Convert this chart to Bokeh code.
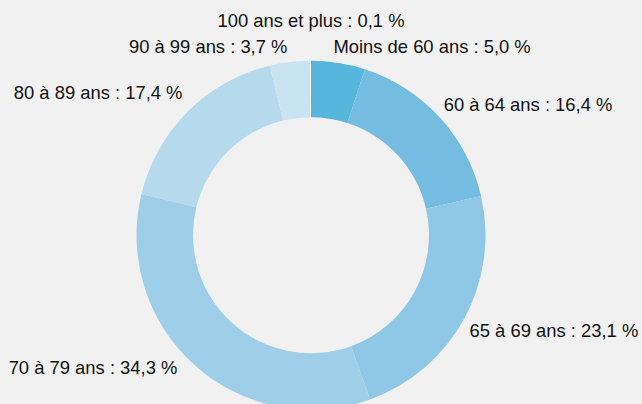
import math
from bokeh.plotting import figure
from bokeh.models import Range1d, ColumnDataSource
from bokeh.core.properties import value
from bokeh.embed import file_html
from bokeh.resources import INLINE
from bokeh.core.templates import get_env

# ---- data ----
categories = ["Moins de 60 ans", "60 à 64 ans", "65 à 69 ans", "70 à 79 ans",
              "80 à 89 ans", "90 à 99 ans", "100 ans et plus"]
shares = [5.0, 16.4, 23.1, 34.3, 17.4, 3.7, 0.1]
colors = ["#56b6dc", "#74bde1", "#8fc8e6", "#9fcfe8", "#b5d9ed", "#c9e3f1", "#ffffff"]

# ---- layout (pixels) ----
W, H = 642, 404
OFF = 0                         # page offset of the figure
CX, CY = 310.5, 234.7           # donut centre on the page
R_OUT, R_IN = 174.5, 118.0
R_LAB = 188.0
BG = "#f1f1f1"
# small per-label nudges (dx, dy screen pixels)
nudges = [(-7, -3), (-6, -3.7), (-6.5, 5.3), (-8, -7.6), (4.4, -9.8), (-0.6, -2), None]

total = sum(shares)
starts, ends, lx, ly, la, ltxt = [], [], [], [], [], []
acc = 0.0
for i, (c, v) in enumerate(zip(categories, shares)):
    a0 = math.pi / 2 - 2 * math.pi * acc / total
    acc += v
    a1 = math.pi / 2 - 2 * math.pi * acc / total
    starts.append(a0)
    ends.append(a1)
    mid = (a0 + a1) / 2
    txt = f"{c} : {v:.1f}".replace(".", ",") + " %"
    ltxt.append(txt)
    if nudges[i] is None:
        # tiny slice at the top: label centred above the others
        lx.append(0.0)
        ly.append(CY - 20)
        la.append("center")
    else:
        dx, dy = nudges[i]
        lx.append(R_LAB * math.cos(mid) + dx)
        ly.append(R_LAB * math.sin(mid) - dy)
        la.append("left" if math.cos(mid) > 0 else "right")

src = ColumnDataSource(dict(start=starts, end=ends, color=colors))
lab = ColumnDataSource(dict(x=lx, y=ly, text=ltxt, align=la))

x0 = OFF - CX
y1 = CY - OFF
p = figure(width=W, height=H, output_backend="svg", toolbar_location=None,
           x_range=Range1d(x0, x0 + W), y_range=Range1d(y1 - H, y1),
           min_border=0, outline_line_color=None,
           background_fill_color=BG, border_fill_color=BG)
p.axis.visible = False
p.grid.visible = False

p.annular_wedge(x=0, y=0, inner_radius=R_IN, outer_radius=R_OUT,
                start_angle="start", end_angle="end", direction="clock",
                fill_color="color", line_color=None, source=src)

p.text(x="x", y="y", text="text", source=lab, text_align="align",
       text_baseline="middle", text_font=value("Liberation Sans"),
       text_font_size="18.4px", text_color="#111111")

template = get_env().from_string(
    '{% extends "file.html" %}{% block postamble %}'
    '<style>html,body{background:#f1f1f1;overflow:hidden;}</style>{% endblock %}')
open("out.html", "w").write(file_html(p, INLINE, template=template))
